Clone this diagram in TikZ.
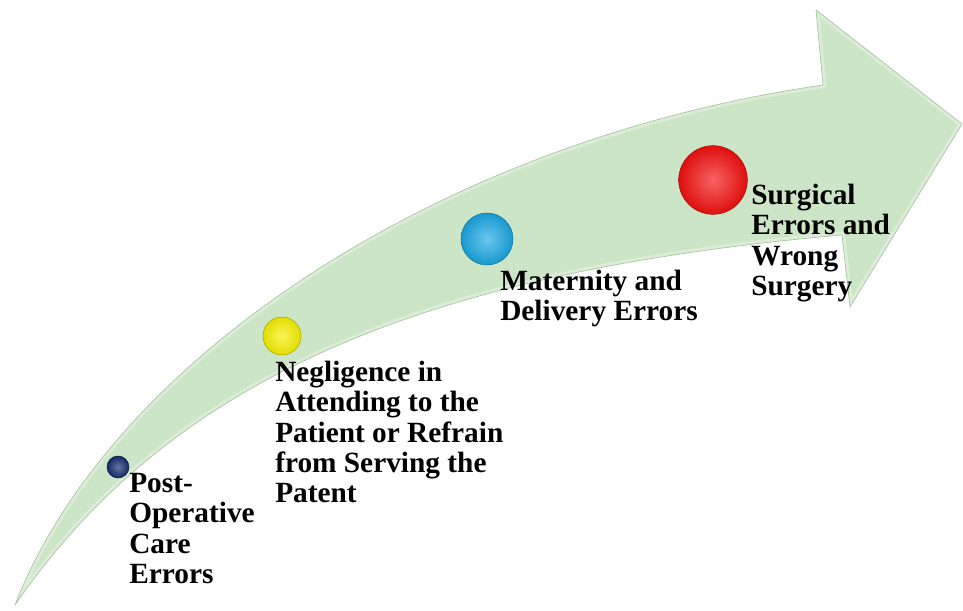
\documentclass[tikz,border=0pt]{standalone}
\usepackage{fontspec}
\setmainfont{Liberation Serif}
\usetikzlibrary{positioning}
\definecolor{green100}{HTML}{CCE5C6}
\definecolor{green300}{HTML}{A8C4A2}
\definecolor{navy700} {HTML}{142C6E}
\definecolor{yellow500}{HTML}{F5F000}
\definecolor{cyan500} {HTML}{1AA6E2}
\definecolor{red500}  {HTML}{F21010}
\newcommand{\arrowoutline}{(15,605) .. controls (110,360) and (440,140) .. (823,85)
  -- (816,10) -- (962,124) -- (850,307) -- (842,235)
  .. controls (420,272) and (170,380) .. cycle}
\tikzset{
  stage/.style ={circle, inner sep=0pt, draw=#1!70!black, line width=0.4pt,
                 shading=radial, inner color=#1!65!white, outer color=#1!92!black},
  lbl/.style   ={anchor=north west, align=left, inner sep=0pt,
                 font=\fontsize{22}{22.7}\selectfont\bfseries}
}

\begin{document}
\begin{tikzpicture}[x=0.75pt, y=-0.75pt]
\useasboundingbox (0,0) rectangle (963,610);
\fill[green100] \arrowoutline;
\begin{scope}
  \clip \arrowoutline;
  \draw[white, opacity=0.3, line width=5pt, line join=round] \arrowoutline;
\end{scope}
\draw[green300, line width=0.5pt, line join=round] \arrowoutline;

\node[stage=navy700,   minimum size=16.5pt] (postop) at (118,467) {};
\node[stage=yellow500, minimum size=28.5pt] (neglig) at (282,336) {};
\node[stage=cyan500,   minimum size=39pt]   (matern) at (487,239) {};
\node[stage=red500,    minimum size=51.5pt] (surgic) at (713,180) {};

\node[lbl] (postoptxt) at (129,473) {Post-\\Operative\\Care\\Errors};
\node[lbl] (negligtxt) at (275,361)
  {Negligence in\\Attending to the\\Patient or Refrain\\from Serving the\\Patent};
\node[lbl] (materntxt) at (500,270) {Maternity and\\Delivery Errors};
\node[lbl] (surgictxt) at (751,184) {Surgical\\Errors and\\Wrong\\Surgery};
\end{tikzpicture}
\end{document}
